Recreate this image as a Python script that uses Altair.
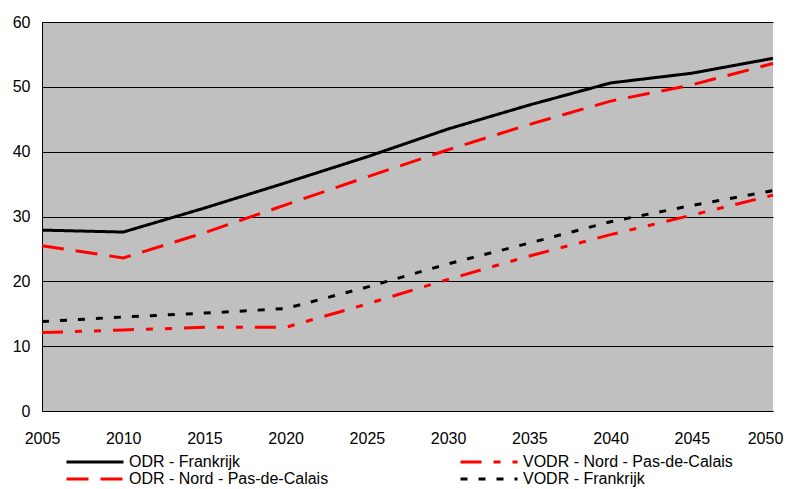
import altair as alt
import pandas as pd

years = [2005, 2010, 2015, 2020, 2025, 2030, 2035, 2040, 2045, 2050]
odr_fr = [27.9, 27.6, 31.3, 35.2, 39.2, 43.5, 47.2, 50.6, 52.1, 54.4]
odr_npdc = [25.5, 23.6, 27.5, 31.8, 36.1, 40.3, 44.2, 47.8, 50.3, 53.6]
vodr_npdc = [12.1, 12.5, 12.9, 12.9, 16.5, 20.3, 23.9, 27.2, 30.2, 33.3]
vodr_fr = [13.8, 14.5, 15.1, 15.8, 19.1, 22.7, 25.9, 29.2, 31.7, 34.0]

# legend fills column by column
series = ["ODR - Frankrijk", "ODR - Nord - Pas-de-Calais",
          "VODR - Nord - Pas-de-Calais", "VODR - Frankrijk"]
colors = ["#000000", "#FF0000", "#FF0000", "#000000"]
dashes = [[1, 0], [22, 12], [21, 12, 7, 12, 7, 12], [7, 11]]

values = {
    "ODR - Frankrijk": odr_fr,
    "ODR - Nord - Pas-de-Calais": odr_npdc,
    "VODR - Nord - Pas-de-Calais": vodr_npdc,
    "VODR - Frankrijk": vodr_fr,
}
rows = []
for name, vals in values.items():
    for yr, v in zip(years, vals):
        rows.append({"year": yr, "value": v, "series": name})
df = pd.DataFrame(rows)

FONT = "Liberation Sans"

legend = alt.Legend(
    orient="none", legendX=23, legendY=432, columns=2, title=None,
    symbolType="stroke", symbolSize=3249, symbolStrokeWidth=3,
    labelFontSize=16, labelFont=FONT, labelColor="#000000",
    columnPadding=130, rowPadding=1, labelOffset=4, symbolOffset=0,
    labelLimit=400, clipHeight=16, padding=0,
)

chart = alt.Chart(df).mark_line(strokeWidth=3, strokeCap="butt").encode(
    x=alt.X("year:Q",
            scale=alt.Scale(domain=[2005, 2050], nice=False, zero=False),
            axis=alt.Axis(values=years, format="d", title=None, grid=False,
                          ticks=False, labelFontSize=16, labelFont=FONT,
                          labelColor="#000000", labelPadding=19,
                          labelOffset={"condition": {"test": "datum.value == 2050", "value": -8}, "value": 0},
                          domainColor="#000000", domainWidth=1,
                          labelFlush=False)),
    y=alt.Y("value:Q",
            scale=alt.Scale(domain=[0, 60], nice=False),
            axis=alt.Axis(values=[0, 10, 20, 30, 40, 50, 60], title=None,
                          grid=True, gridColor="#000000", gridWidth=1,
                          gridOpacity=1, ticks=False, labelFontSize=16,
                          labelFont=FONT, labelColor="#000000",
                          labelPadding=12, domainColor="#000000",
                          domainWidth=1)),
    color=alt.Color("series:N",
                    scale=alt.Scale(domain=series, range=colors),
                    legend=legend, sort=series),
    strokeDash=alt.StrokeDash("series:N",
                              scale=alt.Scale(domain=series, range=dashes),
                              legend=legend, sort=series),
    detail="series:N",
).properties(
    width=731, height=389,
    autosize=alt.AutoSizeParams(type="none"),
    padding={"left": 34, "top": 14, "right": 11, "bottom": 78},
    background="#FFFFFF",
).configure_view(
    fill="#C0C0C0", stroke=None,
)

chart.save("out.html", embed_options={"renderer": "svg", "actions": False})
